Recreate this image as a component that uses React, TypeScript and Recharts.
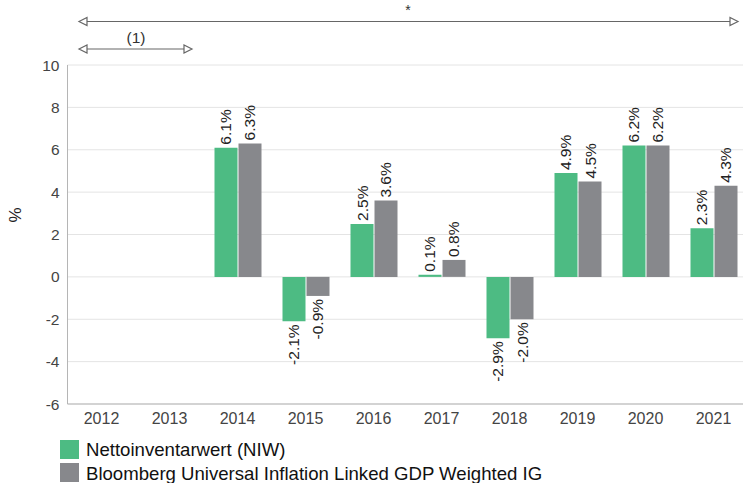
import React from 'react';
import { BarChart, Bar, XAxis, YAxis, CartesianGrid } from 'recharts';

const years = ['2012', '2013', '2014', '2015', '2016', '2017', '2018', '2019', '2020', '2021'];
const niwValues: (number | null)[] = [null, null, 6.1, -2.1, 2.5, 0.1, -2.9, 4.9, 6.2, 2.3];
const indexValues: (number | null)[] = [null, null, 6.3, -0.9, 3.6, 0.8, -2.0, 4.5, 6.2, 4.3];
const yTicks = [-6, -4, -2, 0, 2, 4, 6, 8, 10];
const seriesNames = ['Nettoinventarwert (NIW)', 'Bloomberg Universal Inflation Linked GDP Weighted IG'];
const seriesColors = ['#4dbb83', '#87888c'];
const yAxisTitle = '%';
const fullPeriodMark = '*';
const partialPeriodMark = '(1)';

const data = years.map((year, i) => ({ year, niw: niwValues[i], idx: indexValues[i] }));

const renderLabel = (props: any) => {
  const { x, y, width, height, value } = props;
  if (value === null || value === undefined) return null;
  const v = Number(value);
  const cx = Number(x) + Number(width) / 2;
  const y1 = Number(y);
  const y2 = Number(y) + Number(height);
  const top = Math.min(y1, y2);
  const bottom = Math.max(y1, y2);
  const pos = v >= 0;
  const ay = pos ? top - 3 : bottom + 3;
  return (
    <text
      x={cx}
      y={ay}
      transform={`rotate(-90 ${cx} ${ay})`}
      textAnchor={pos ? 'start' : 'end'}
      dominantBaseline="central"
      fontSize={15.5}
      fill="#222"
    >
      {v.toFixed(1)}%
    </text>
  );
};

const Arrow = ({ x1, x2, y }: { x1: number; x2: number; y: number }) => (
  <g stroke="#666" strokeWidth={1.2}>
    <line x1={x1 + 8} x2={x2 - 8} y1={y} y2={y} />
    <polygon points={`${x1},${y} ${x1 + 8},${y - 4} ${x1 + 8},${y + 4}`} fill="#fff" />
    <polygon points={`${x2},${y} ${x2 - 8},${y - 4} ${x2 - 8},${y + 4}`} fill="#fff" />
  </g>
);

export default function App() {
  return (
    <div
      style={{
        position: 'absolute',
        left: 0,
        top: 0,
        width: 743,
        height: 483,
        overflow: 'hidden',
        background: '#fff',
        fontFamily: '"Liberation Sans", Arial, sans-serif',
      }}
    >
      <BarChart
        width={760}
        height={483}
        data={data}
        margin={{ top: 65, right: 12.5, bottom: 49, left: 7.5 }}
        barSize={23}
        barGap={1}
      >
        <CartesianGrid vertical={false} stroke="#e4e4e4" />
        <XAxis
          dataKey="year"
          tickLine={false}
          axisLine={{ stroke: '#b5b5b5' }}
          tick={{ fontSize: 16, fill: '#444' }}
          height={30}
          tickMargin={3}
          interval={0}
        />
        <YAxis
          domain={[-6, 10]}
          ticks={yTicks}
          width={60}
          tickLine={false}
          axisLine={{ stroke: '#b5b5b5' }}
          tick={{ fontSize: 15.5, fill: '#444' }}
          interval={0}
        />
        <Bar dataKey="niw" fill={seriesColors[0]} isAnimationActive={false} label={renderLabel} />
        <Bar dataKey="idx" fill={seriesColors[1]} isAnimationActive={false} label={renderLabel} />
      </BarChart>
      <svg
        width={743}
        height={483}
        style={{ position: 'absolute', left: 0, top: 0, pointerEvents: 'none' }}
      >
        <Arrow x1={79} x2={738} y={21.5} />
        <text x={408} y={15} fontSize={14} fill="#333" textAnchor="middle">{fullPeriodMark}</text>
        <Arrow x1={79} x2={192} y={49} />
        <text x={136} y={43} fontSize={15.5} fill="#333" textAnchor="middle">{partialPeriodMark}</text>
        <text
          x={15}
          y={215}
          transform="rotate(-90 15 215)"
          fontSize={17}
          fill="#222"
          textAnchor="middle"
          dominantBaseline="central"
        >
          {yAxisTitle}
        </text>
        <rect x={60} y={440} width={19} height={19} fill={seriesColors[0]} />
        <text x={86} y={456} fontSize={18.6} fill="#111">{seriesNames[0]}</text>
        <rect x={60} y={463} width={19} height={19} fill={seriesColors[1]} />
        <text x={86} y={479.5} fontSize={18.6} fill="#111">{seriesNames[1]}</text>
      </svg>
    </div>
  );
}
